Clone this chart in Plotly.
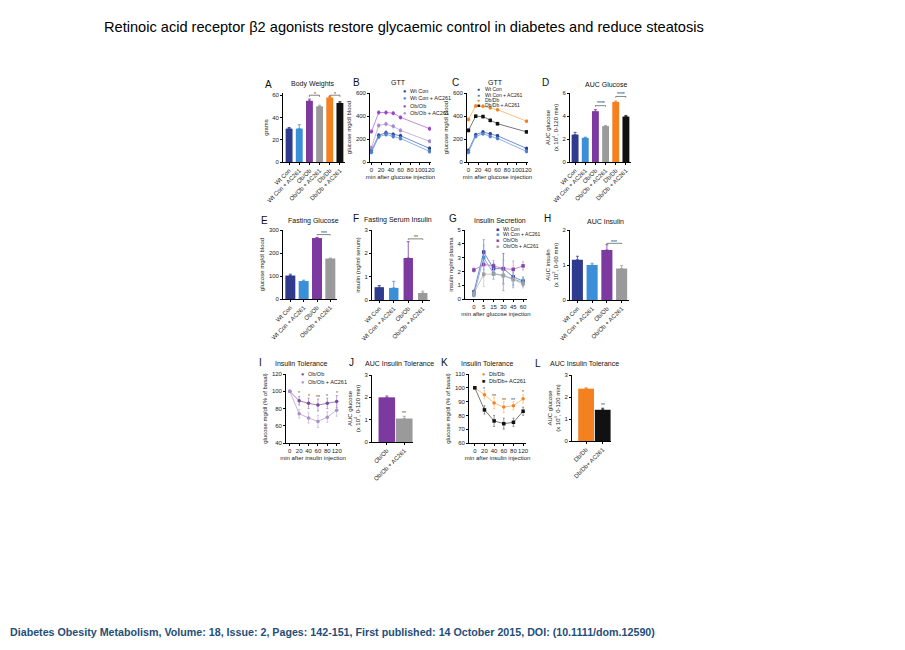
import plotly.graph_objects as go

W, H = 905, 650
FONT = "Arial, Liberation Sans, sans-serif"


def fx(px):
    return px / W


def fy(py):
    return 1 - py / H


# ---------------- data ----------------
grp6 = ["Wt Con", "Wt Con + AC261", "Ob/Ob", "Ob/Ob + AC261", "Db/Db", "Db/Db + AC261"]
grp4 = grp6[:4]
grp_ob = ["Ob/Ob", "Ob/Ob + AC261"]
grp_db = ["Db/Db", "Db/Db+ AC261"]

body_weight = [30, 30, 55, 50, 58, 53]
body_weight_err = [1.0, 3.5, 1.5, 1.0, 1.0, 1.2]

gtt_time = [0, 15, 30, 45, 60, 120]
gtt_b_wt = [100, 232, 255, 240, 228, 118]
gtt_b_wt_ac = [85, 218, 240, 222, 205, 92]
gtt_b_ob = [265, 430, 430, 425, 388, 290]
gtt_b_ob_ac = [125, 318, 330, 310, 275, 180]
gtt_b_err = [15, 15, 15, 15, 15, 15]

gtt_c_wt = [100, 238, 260, 245, 228, 118]
gtt_c_wt_ac = [85, 222, 245, 222, 205, 92]
gtt_c_db = [370, 488, 485, 472, 455, 355]
gtt_c_db_ac = [275, 398, 395, 362, 333, 262]
gtt_c_err = [15, 12, 12, 12, 12, 12]

auc_glucose = [2.38, 2.1, 4.42, 3.12, 5.22, 3.95]
auc_glucose_err = [0.2, 0.06, 0.15, 0.05, 0.08, 0.1]

fasting_glucose = [102, 78, 265, 176]
fasting_glucose_err = [6, 4, 3, 2]

fasting_insulin = [0.55, 0.52, 1.8, 0.3]
fasting_insulin_err = [0.07, 0.28, 0.7, 0.08]

ins_time = ["0", "5", "15", "30", "45", "60"]
ins_wt = [0.5, 3.4, 2.2, 2.2, 1.6, 1.3]
ins_wt_ac = [0.3, 3.0, 1.85, 1.7, 1.45, 1.2]
ins_ob = [2.1, 2.5, 2.4, 2.2, 2.15, 2.4]
ins_ob_ac = [0.4, 1.8, 1.8, 1.7, 1.4, 1.1]
ins_err = [0.15, 0.9, 0.4, 1.1, 0.6, 0.3]

auc_insulin = [1.15, 1.0, 1.43, 0.9]
auc_insulin_err = [0.1, 0.05, 0.15, 0.08]

itt_time = ["0", "20", "40", "60", "80", "120"]
itt_ob = [100, 89, 86, 84, 86, 88]
itt_ob_ac = [100, 74, 69, 65, 70, 78]
itt_ob_err = [0.5, 5, 6, 7, 6, 7]

auc_itt_ob = [2.0, 1.05]
auc_itt_ob_err = [0.06, 0.1]

itt_db = [100, 95, 89, 86, 87, 92]
itt_db_ac = [100, 84, 76, 74, 75, 83]
itt_db_err = [0.5, 3, 4, 4, 3, 3]

auc_itt_db = [2.38, 1.42]
auc_itt_db_err = [0.04, 0.07]

# ---------------- colours ----------------
NAVY = "#2e3b8e"
LBLUE = "#3b8fd8"
PURPLE = "#7c3aa0"
GREY = "#9a9a9a"
ORANGE = "#f4811f"
BLACK = "#111111"
bar_colors6 = [NAVY, LBLUE, PURPLE, GREY, ORANGE, BLACK]

# ---------------- panel geometry (px: x0, x1, ytop, ybottom) ----------------
panels = {
    "A": (283, 345, 93, 162),
    "B": (370, 431, 93, 162),
    "C": (467, 528, 93, 162),
    "D": (570, 631, 93, 162),
    "E": (283, 337, 230, 299),
    "F": (372, 430, 230, 300),
    "G": (465, 527, 230, 299),
    "H": (570, 629, 230, 300),
    "I": (286, 340, 374, 443),
    "J": (372, 413, 375, 442),
    "K": (469, 526, 374, 443),
    "L": (572, 611, 375, 441),
}
order = list(panels.keys())
idx = {k: i + 1 for i, k in enumerate(order)}

fig = go.Figure()
layout = dict(
    width=W, height=H, margin=dict(l=0, r=0, t=0, b=0, autoexpand=False),
    paper_bgcolor="white", plot_bgcolor="white",
    showlegend=False, barmode="overlay",
    font=dict(family=FONT, size=6, color="#222"),
    title=dict(text="Retinoic acid receptor β2 agonists restore glycaemic control in diabetes and reduce steatosis",
               x=fx(104), xanchor="left", xref="paper", y=fy(27), yanchor="middle", yref="paper",
               font=dict(size=14.6, family=FONT, color="#000")),
)
annotations = []
shapes = []


def axn(k, kind):
    i = idx[k]
    return kind if i == 1 else f"{kind}{i}"


def ref(k, kind):
    i = idx[k]
    return kind if i == 1 else f"{kind}{i}"


def setup_axes(k, yrange, ydtick, ytitle, xtype="linear", xrange=None,
               xtitle=None, xtickvals=None, tickangle=0, ystandoff=3):
    x0, x1, yt, yb = panels[k]
    common = dict(showline=True, linecolor="black", linewidth=0.8, ticks="outside",
                  ticklen=2, tickwidth=0.8, tickcolor="black", showgrid=False,
                  zeroline=False, tickfont=dict(size=6, family=FONT, color="#222"),
                  fixedrange=True, automargin=False)
    xa = dict(common, domain=[fx(x0), fx(x1)], anchor=ref(k, "y"), type=xtype,
              tickangle=tickangle)
    if xrange is not None:
        xa["range"] = xrange
    if xtickvals is not None:
        xa["tickvals"] = xtickvals
    if xtitle:
        xa["title"] = dict(text=xtitle, font=dict(size=6, family=FONT, color="#222"), standoff=2)
    ya = dict(common, domain=[fy(yb), fy(yt)], anchor=ref(k, "x"), range=yrange, dtick=ydtick,
              title=dict(text=ytitle, font=dict(size=6, family=FONT, color="#222"), standoff=ystandoff))
    layout[axn(k, "xaxis")] = xa
    layout[axn(k, "yaxis")] = ya


def add_bars(k, cats, vals, errs, colors, width):
    for c, v, e, col in zip(cats, vals, errs, colors):
        fig.add_trace(go.Bar(
            x=[c], y=[v], width=width, marker=dict(color=col, line=dict(width=0)),
            error_y=dict(type="data", array=[e], arrayminus=[0], symmetric=False,
                         thickness=0.8, width=1.5, color=col),
            xaxis=ref(k, "x"), yaxis=ref(k, "y"), name=c))


def add_line(k, xs, ys, errs, color, symbol="circle", name="", lcolor=None):
    fig.add_trace(go.Scatter(
        x=xs, y=ys, mode="lines+markers", name=name,
        line=dict(color=lcolor or color, width=0.8),
        marker=dict(color=color, size=3.5, symbol=symbol, line=dict(width=0)),
        error_y=dict(type="data", array=errs, thickness=0.6, width=1, color=lcolor or color),
        xaxis=ref(k, "x"), yaxis=ref(k, "y")))


def bracket(k, a, b, h, d, stars, dy):
    xr, yr = ref(k, "x"), ref(k, "y")
    for (xa_, ya_, xb_, yb_) in [(a, h, b, h), (a, h, a, h - d), (b, h, b, h - d)]:
        shapes.append(dict(type="line", xref=xr, yref=yr, x0=xa_, y0=ya_, x1=xb_, y1=yb_,
                           line=dict(color="#333", width=0.6)))
    annotations.append(dict(xref=xr, yref=yr, x=(a + b) / 2, y=h + dy, text=stars,
                            showarrow=False, font=dict(size=5, family=FONT, color="#333")))


def star(k, x, y, text):
    annotations.append(dict(xref=ref(k, "x"), yref=ref(k, "y"), x=x, y=y, text=text,
                            showarrow=False, font=dict(size=5, family=FONT, color="#444")))


def label(px, py, text, size, anchor="center"):
    annotations.append(dict(xref="paper", yref="paper", x=fx(px), y=fy(py), text=text,
                            showarrow=False, xanchor=anchor, yanchor="middle",
                            font=dict(size=size, family=FONT, color="#111")))


def legend_item(mx, tx, py, color, text, glyph="●", size=5.5):
    annotations.append(dict(xref="paper", yref="paper", x=fx(mx), y=fy(py), text=glyph,
                            showarrow=False, xanchor="center", yanchor="middle",
                            font=dict(size=size, family=FONT, color=color)))
    annotations.append(dict(xref="paper", yref="paper", x=fx(tx), y=fy(py), text=text,
                            showarrow=False, xanchor="left", yanchor="middle",
                            font=dict(size=size, family=FONT, color="#222")))


# ---------------- A ----------------
add_bars("A", grp6, body_weight, body_weight_err, bar_colors6, 0.68)
setup_axes("A", [0, 62], 20, "grams", xtype="category", xrange=[-0.6, 5.5], tickangle=-45)
bracket("A", 2, 3, 60, 1.5, "*", 1.5)
bracket("A", 4, 5, 60, 1.5, "*", 1.5)

# ---------------- B ----------------
gtt_b = [(gtt_b_wt, NAVY, "#4f6fc0", "Wt Con"), (gtt_b_wt_ac, "#4a7fd0", "#6e9ae0", "Wt Con + AC261"),
         (gtt_b_ob, "#9a44c4", "#b070d0", "Ob/Ob"), (gtt_b_ob_ac, "#a58bc9", "#b9a3d8", "Ob/Ob + AC261")]
for ys, col, lcol, nm in gtt_b:
    add_line("B", gtt_time, ys, gtt_b_err, col, name=nm, lcolor=lcol)
setup_axes("B", [0, 600], 200, "glucose mg/dl blood", xrange=[-3, 123],
           xtitle="min after glucose injection", xtickvals=[0, 20, 40, 60, 80, 100, 120])

# ---------------- C ----------------
gtt_c = [(gtt_c_wt, NAVY, "#4f6fc0", "circle", "Wt Con"),
         (gtt_c_wt_ac, "#4a7fd0", "#6e9ae0", "circle", "Wt Con + AC261"),
         (gtt_c_db, ORANGE, "#f6b060", "circle", "Db/Db"),
         (gtt_c_db_ac, BLACK, "#555555", "square", "Db/Db + AC261")]
for ys, col, lcol, sym, nm in gtt_c:
    add_line("C", gtt_time, ys, gtt_c_err, col, symbol=sym, name=nm, lcolor=lcol)
setup_axes("C", [0, 600], 200, "glucose mg/dl blood", xrange=[-3, 123],
           xtitle="min after glucose injection", xtickvals=[0, 20, 40, 60, 80, 100, 120])

# ---------------- D ----------------
add_bars("D", grp6, auc_glucose, auc_glucose_err, bar_colors6, 0.68)
setup_axes("D", [0, 6], 2, "AUC glucose<br>(x 10<sup>4</sup>, 0-120 min)", xtype="category",
           xrange=[-0.5, 5.5], tickangle=-45)
bracket("D", 2, 3, 4.9, 0.1, "****", 0.2)
bracket("D", 4, 5, 5.7, 0.1, "****", 0.2)

# ---------------- E ----------------
add_bars("E", grp4, fasting_glucose, fasting_glucose_err, bar_colors6, 0.75)
setup_axes("E", [0, 300], 100, "glucose mg/dl blood", xtype="category",
           xrange=[-0.55, 3.5], tickangle=-45)
bracket("E", 2, 3, 280, 3, "***", 8)

# ---------------- F ----------------
add_bars("F", grp4, fasting_insulin, fasting_insulin_err, bar_colors6, 0.65)
setup_axes("F", [0, 3], 1, "insulin (ng/ml serum)", xtype="category",
           xrange=[-0.5, 3.5], tickangle=-45)
bracket("F", 2, 3, 2.62, 0.04, "**", 0.08)

# ---------------- G ----------------
ins = [(ins_wt, NAVY, "#4f6fc0", "Wt Con"), (ins_wt_ac, "#4a8fd6", "#6e9ae0", "Wt Con + AC261"),
       (ins_ob, "#7e46ad", "#c070c8", "Ob/Ob"), (ins_ob_ac, "#a0a0a0", "#b8b8b8", "Ob/Ob + AC261")]
for ys, col, lcol, nm in ins:
    add_line("G", ins_time, ys, ins_err, col, symbol="square", name=nm, lcolor=lcol)
setup_axes("G", [0, 5], 1, "insulin ng/ml plasma", xtype="category", xrange=[-0.9, 5.4],
           xtitle="min after glucose injection")

# ---------------- H ----------------
add_bars("H", grp4, auc_insulin, auc_insulin_err, bar_colors6, 0.75)
setup_axes("H", [0, 2], 1, "AUC insulin<br>(x 10<sup>2</sup>, 0-60 min)", xtype="category",
           xrange=[-0.5, 3.5], tickangle=-45)
bracket("H", 2, 3, 1.62, 0.02, "***", 0.05)

# ---------------- I ----------------
add_line("I", itt_time, itt_ob, itt_ob_err, "#7a4a9e", name="Ob/Ob", lcolor="#8e62b0")
add_line("I", itt_time, itt_ob_ac, itt_ob_err, "#a98fc2", name="Ob/Ob + AC261", lcolor="#b8a2cf")
setup_axes("I", [40, 120], 20, "glucose mg/dl (% of basal)", xtype="category", xrange=[-0.4, 5.35],
           xtitle="min after insulin injection")
for xi, yy, t in [(1, 98, "*"), (2, 95, "*"), (3, 93, "**"), (4, 95, "*"), (5, 98, "*")]:
    star("I", xi, yy, t)

# ---------------- J ----------------
add_bars("J", grp_ob, auc_itt_ob, auc_itt_ob_err, [PURPLE, GREY], 0.95)
setup_axes("J", [0, 3], 1, "AUC glucose<br>(x 10<sup>4</sup>, 0-120 min)", xtype="category",
           xrange=[-0.85, 1.5], tickangle=-45)
star("J", 1, 1.32, "**")

# ---------------- K ----------------
add_line("K", itt_time, itt_db, itt_db_err, ORANGE, name="Db/Db", lcolor="#f6b060")
add_line("K", itt_time, itt_db_ac, itt_db_err, BLACK, symbol="square", name="Db/Db+ AC261",
         lcolor="#555555")
setup_axes("K", [60, 110], 10, "glucose mg/dl (% of basal)", xtype="category", xrange=[-0.6, 5.3],
           xtitle="min after insulin injection")
for xi, yy, t in [(1, 99, "*"), (2, 94, "**"), (3, 91, "**"), (4, 91, "**"), (5, 97, "*")]:
    star("K", xi, yy, t)

# ---------------- L ----------------
add_bars("L", grp_db, auc_itt_db, auc_itt_db_err, [ORANGE, BLACK], 0.95)
setup_axes("L", [0, 3], 1, "AUC glucose<br>(x 10<sup>4</sup>, 0-120 min)", xtype="category",
           xrange=[-0.85, 1.5], tickangle=-45)
star("L", 1, 1.62, "**")

# ---------------- panel letters & titles ----------------
titles = {
    "A": ((268, 84), (313, 84), "Body Weights"),
    "B": ((356, 82), (398, 83), "GTT"),
    "C": ((455, 82), (496, 83), "GTT"),
    "D": ((545, 82), (606, 84), "AUC Glucose"),
    "E": ((264, 220), (313, 221), "Fasting Glucose"),
    "F": ((356, 219), (398, 220), "Fasting Serum Insulin"),
    "G": ((453, 219), (500, 220), "Insulin Secretion"),
    "H": ((547, 219), (605, 221), "AUC Insulin"),
    "I": ((260, 362), (301, 363), "Insulin Tolerance"),
    "J": ((351, 362), (399, 363), "AUC Insulin Tolerance"),
    "K": ((444, 362), (487, 363), "Insulin Tolerance"),
    "L": ((538, 363), (584, 363), "AUC Insulin Tolerance"),
}
for k, (lp, tp, t) in titles.items():
    label(lp[0], lp[1], k, 10)
    label(tp[0], tp[1], t, 7)

# ---------------- legends ----------------
for (ys, col, lcol, nm), py in zip(gtt_b, [91, 98.5, 106, 113]):
    legend_item(404, 408, py, col, nm)
for (ys, col, lcol, sym, nm), py in zip(gtt_c, [89, 94.5, 100, 105.5]):
    legend_item(479, 483, py, col, nm, glyph="■" if sym == "square" else "●", size=5)
for (ys, col, lcol, nm), py in zip(ins, [229, 234.5, 240, 245.5]):
    legend_item(497, 501, py, col, nm, glyph="■", size=5)
legend_item(302, 306, 374, "#7a4a9e", "Ob/Ob")
legend_item(302, 306, 382, "#a98fc2", "Ob/Ob + AC261")
legend_item(483, 487, 374, ORANGE, "Db/Db")
legend_item(483, 487, 381, BLACK, "Db/Db+ AC261", glyph="■")

# ---------------- footer ----------------
annotations.append(dict(xref="paper", yref="paper", x=fx(8), y=fy(632), xanchor="left",
                        yanchor="middle", showarrow=False,
                        text="<b>Diabetes Obesity Metabolism, Volume: 18, Issue: 2, Pages: 142-151, First published: 14 October 2015, DOI: (10.1111/dom.12590)</b>",
                        font=dict(size=10.7, family=FONT, color="#1f4e79")))

layout["annotations"] = annotations
layout["shapes"] = shapes
fig.update_layout(**layout)
fig.write_html("out.html")
